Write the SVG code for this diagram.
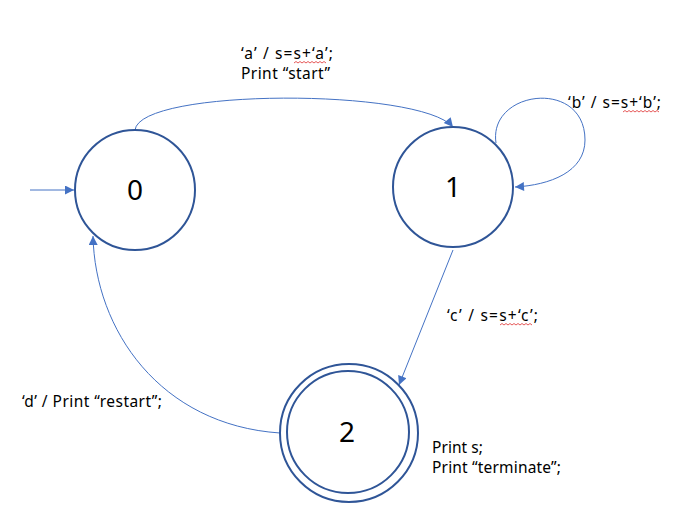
<svg xmlns="http://www.w3.org/2000/svg" width="692" height="521" viewBox="0 0 692 521">
<style>
.st{fill:#fff;stroke:#2F5597;stroke-width:2}
.num{font-family:"Noto Sans","Open Sans",sans-serif;font-size:28px;fill:#000;text-anchor:middle}
.lbl{font-family:"Noto Sans","Open Sans",sans-serif;font-size:15.5px;fill:#000}
.e{fill:none;stroke:#4472C4;stroke-width:1}
.sq{fill:none;stroke:#E03030;stroke-width:0.8}
</style>
<defs>
<marker id="ah" viewBox="0 0 10 10" refX="10" refY="5" markerWidth="11" markerHeight="9" markerUnits="userSpaceOnUse" orient="auto">
<path d="M0,0 L10,5 L0,10 z" fill="#4472C4"/>
</marker>
</defs>
<rect width="692" height="521" fill="#fff"/>
<g id="connectors">
<path class="e" d="M30,190 L74,190" marker-end="url(#ah)"/>
<path class="e" d="M135,130 C140,88 420,88 453,127" marker-end="url(#ah)"/>
<path class="e" d="M496,143 C488,90 585,78 585,140 C585,172 550,185 515,187" marker-end="url(#ah)"/>
<path class="e" d="M453,250 L399,385" marker-end="url(#ah)"/>
<path class="e" d="M280,433 C160,425 95,330 93,236" marker-end="url(#ah)"/>
</g>
<g id="node0">
<circle class="st" cx="135" cy="190" r="60"/>
<text class="num" x="135" y="200">0</text>
</g>
<g id="node1">
<circle class="st" cx="453" cy="187" r="60"/>
<text class="num" x="453" y="197">1</text>
</g>
<g id="node2">
<circle class="st" cx="349" cy="433" r="69"/>
<circle class="st" cx="348" cy="432" r="61"/>
<text class="num" x="347" y="442">2</text>
</g>
<g id="labels">
<text class="lbl" x="241" y="59" textLength="92" lengthAdjust="spacing">‘a’ / s=s+‘a’;</text>
<text class="lbl" x="241" y="79" textLength="89" lengthAdjust="spacing">Print “start”</text>
<text class="lbl" x="568" y="108" textLength="93" lengthAdjust="spacing">‘b’ / s=s+‘b’;</text>
<text class="lbl" x="447" y="321" textLength="91" lengthAdjust="spacing">‘c’ / s=s+‘c’;</text>
<text class="lbl" x="22" y="407" textLength="140" lengthAdjust="spacing">‘d’ / Print “restart”;</text>
<text class="lbl" x="432" y="453" textLength="51" lengthAdjust="spacing">Print s;</text>
<text class="lbl" x="432" y="473" textLength="129" lengthAdjust="spacing">Print “terminate”;</text>
</g>
<g id="spellmarks">
<path class="sq" d="M294,63 l2,-1.5 l2,1.5 l2,-1.5 l2,1.5 l2,-1.5 l2,1.5 l2,-1.5 l2,1.5 l2,-1.5 l2,1.5 l2,-1.5 l2,1.5 l2,-1.5 l2,1.5 l2,-1.5 l2,1.5"/>
<path class="sq" d="M623,112 l2,-1.5 l2,1.5 l2,-1.5 l2,1.5 l2,-1.5 l2,1.5 l2,-1.5 l2,1.5 l2,-1.5 l2,1.5 l2,-1.5 l2,1.5 l2,-1.5 l2,1.5 l2,-1.5 l2,1.5 l2,-1.5 l2,1.5"/>
<path class="sq" d="M500,325 l2,-1.5 l2,1.5 l2,-1.5 l2,1.5 l2,-1.5 l2,1.5 l2,-1.5 l2,1.5 l2,-1.5 l2,1.5 l2,-1.5 l2,1.5 l2,-1.5 l2,1.5 l2,-1.5 l2,1.5"/>
</g>
</svg>
